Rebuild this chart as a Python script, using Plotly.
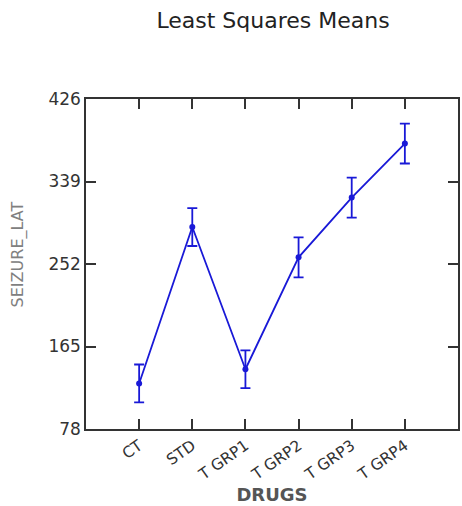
import plotly.graph_objects as go

categories = ["CT", "STD", "T GRP1", "T GRP2", "T GRP3", "T GRP4"]
means = [126, 291, 141, 259, 322, 379]
errors = [20, 20, 20, 21, 21, 21]
y_ticks = [78, 165, 252, 339, 426]

blue = "rgb(25,25,215)"
FONT = "DejaVu Sans"

fig = go.Figure()
fig.add_trace(go.Scatter(
    x=list(range(len(categories))), y=means,
    mode="lines+markers",
    line=dict(color=blue, width=1.8),
    marker=dict(color=blue, size=6),
    error_y=dict(type="data", array=errors, color=blue, thickness=1.8, width=5),
    showlegend=False,
))

fig.update_layout(
    width=462, height=506,
    margin=dict(l=86, r=2, t=99, b=77),
    paper_bgcolor="white", plot_bgcolor="white",
    font=dict(family=FONT, color="#333"),
    title=dict(text="Least Squares Means", x=0.591, xanchor="center",
               y=1 - 20 / 506, yanchor="middle",
               font=dict(family=FONT, size=22, color="#222")),
)
fig.update_xaxes(
    range=[-1, 6],
    tickvals=list(range(len(categories))), ticktext=categories,
    tickangle=-35,
    tickfont=dict(family=FONT, size=15.5, color="#333"),
    ticks="inside", ticklen=10, tickwidth=1.5, tickcolor="#333",
    showline=True, linecolor="#333", linewidth=1.5, mirror="ticks",
    showgrid=False, zeroline=False,
    title=dict(text="DRUGS", font=dict(family=FONT, size=18, color="#555", weight="bold"), standoff=4),
)
fig.update_yaxes(
    range=[78, 426],
    tickvals=y_ticks, ticktext=[str(v) for v in y_ticks],
    tickfont=dict(family=FONT, size=17, color="#333"),
    ticks="inside", ticklen=10, tickwidth=1.5, tickcolor="#333",
    showline=True, linecolor="#333", linewidth=1.5, mirror="ticks",
    showgrid=False, zeroline=False,
)
fig.add_annotation(
    text="SEIZURE_LAT", textangle=-90,
    xref="paper", yref="paper", x=-0.182, y=0.53, xanchor="center", yanchor="middle",
    showarrow=False, font=dict(family=FONT, size=16, color="#808080"),
)

fig.write_html("out.html")
